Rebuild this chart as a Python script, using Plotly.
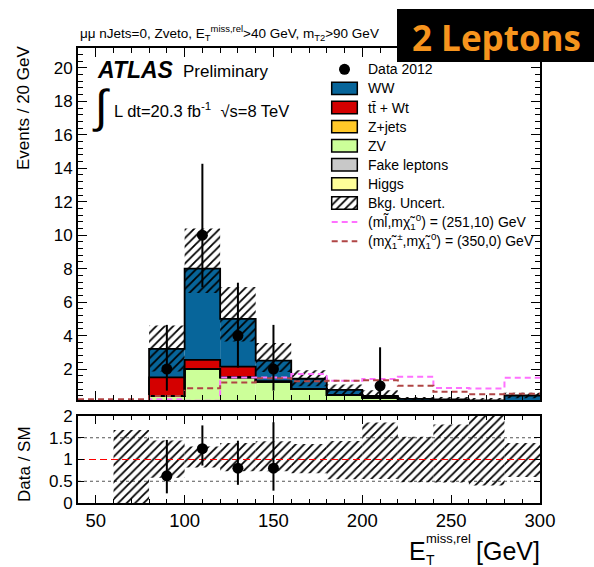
import plotly.graph_objects as go

# ---------------- data: E_T^{miss,rel} in 20 GeV bins ----------------
bin_edges = [40, 60, 80, 100, 120, 140, 160, 180, 200, 220, 240, 260, 280, 300]
bin_centers = [50, 70, 90, 110, 130, 150, 170, 190, 210, 230, 250, 270, 290]

# SM backgrounds (events / 20 GeV), listed bottom-up in the stack
zv    = [0.0, 0.0, 0.40, 2.00, 1.50, 1.25, 0.80, 0.45, 0.30, 0.10, 0.08, 0.05, 0.10]
zjets = [0.0, 0.0, 0.00, 0.00, 0.00, 0.00, 0.00, 0.00, 0.00, 0.00, 0.00, 0.00, 0.00]
fakes = [0.0, 0.0, 0.00, 0.00, 0.00, 0.00, 0.00, 0.00, 0.00, 0.00, 0.00, 0.00, 0.00]
higgs = [0.0, 0.0, 0.00, 0.00, 0.00, 0.00, 0.00, 0.00, 0.00, 0.00, 0.00, 0.00, 0.00]
ttbar = [0.0, 0.0, 1.10, 0.55, 0.65, 0.00, 0.00, 0.00, 0.00, 0.00, 0.00, 0.00, 0.00]
ww    = [0.0, 0.05, 1.70, 5.45, 2.85, 1.25, 0.62, 0.30, 0.10, 0.12, 0.10, 0.08, 0.32]

# total background uncertainty (absolute, up / down)
bkg_err_up   = [0.0, 0.034, 1.40, 2.40, 1.90, 1.05, 0.51, 0.32, 0.34, 0.115, 0.145, 0.135, 0.16]
bkg_err_down = [0.0, 0.060, 1.35, 1.45, 1.35, 0.67, 0.45, 0.34, 0.18, 0.115, 0.095, 0.078, 0.17]

# observed data 2012 with Poisson errors
data          = [0, 0, 2, 10, 4, 2, 0, 0, 1, 0, 0, 0, 0]
data_err_up   = [0, 0, 2.64, 4.27, 3.16, 2.64, 0, 0, 2.30, 0, 0, 0, 0]
data_err_down = [0, 0, 1.29, 3.11, 1.91, 1.29, 0, 0, 0.83, 0, 0, 0, 0]

# signal benchmark points
sig_slepton  = [0.10, 0.10, 0.20, 0.10, 1.50, 1.50, 1.70, 1.30, 1.40, 1.54, 0.87, 0.84, 1.48]
sig_chargino = [0.20, 0.20, 0.39, 0.85, 1.20, 1.45, 1.27, 1.30, 1.33, 1.00, 0.64, 0.50, 0.52]

main_yticks = [2, 4, 6, 8, 10, 12, 14, 16, 18, 20]
ratio_yticks = [0, 0.5, 1, 1.5, 2]
ratio_yticktext = ["0", "0.5", "1", "1.5", "2"]

# ---------------- styling ----------------
C_WW = "#07659a"
C_TT = "#d40000"
C_ZJ = "#ffc828"
C_ZV = "#ccff99"
C_FK = "#c8c8c8"
C_HG = "#ffff99"
C_SLEP = "#ff70ff"
C_CHAR = "#b04545"
FONT = "Liberation Sans, Arial, Helvetica, sans-serif"

W, H = 594, 567
ML, MR, MT, MB = 78, 54, 48, 64
PW, PH = W - ML - MR, H - MT - MB


def px_x(px):
    return (px - ML) / PW


def px_y(py):
    return (H - MB - py) / PH


fig = go.Figure()

# ---------------- main panel: stacked backgrounds ----------------
stack = [zv, zjets, fakes, higgs, ttbar, ww]
stack_colors = [C_ZV, C_ZJ, C_FK, C_HG, C_TT, C_WW]
base = [0.0] * len(bin_centers)
levels = []
for vals, col in zip(stack, stack_colors):
    fig.add_bar(x=bin_centers, y=vals, base=base, width=20,
                marker=dict(color=col, line=dict(width=0)),
                xaxis="x", yaxis="y", hoverinfo="skip")
    base = [b + v for b, v in zip(base, vals)]
    levels.append(base)
total = levels[-1]

# hatched background uncertainty band
hatch = dict(shape="/", fgcolor="black", fgopacity=1, bgcolor="rgba(0,0,0,0)",
             size=6, solidity=0.3, fillmode="overlay")
fig.add_bar(x=bin_centers,
            y=[u + d for u, d in zip(bkg_err_up, bkg_err_down)],
            base=[t - d for t, d in zip(total, bkg_err_down)],
            width=20,
            marker=dict(color="rgba(0,0,0,0)", line=dict(width=0), pattern=hatch),
            xaxis="x", yaxis="y", hoverinfo="skip")

# histogram outlines of the stacked components
for lvl in levels:
    fig.add_scatter(x=bin_edges, y=lvl + [lvl[-1]], mode="lines",
                    line=dict(shape="hv", color="black", width=1.8),
                    xaxis="x", yaxis="y", hoverinfo="skip")

# signal overlays
for sig, col in [(sig_slepton, C_SLEP), (sig_chargino, C_CHAR)]:
    fig.add_scatter(x=bin_edges, y=sig + [sig[-1]], mode="lines",
                    line=dict(shape="hv", color=col, width=2, dash="6px,4px"),
                    xaxis="x", yaxis="y", hoverinfo="skip")

# data points
sel = [i for i, d in enumerate(data) if d > 0]
fig.add_scatter(x=[bin_centers[i] for i in sel], y=[data[i] for i in sel],
                mode="markers",
                marker=dict(color="black", size=11),
                error_y=dict(type="data", symmetric=False,
                             array=[data_err_up[i] for i in sel],
                             arrayminus=[data_err_down[i] for i in sel],
                             color="black", thickness=2, width=0),
                xaxis="x", yaxis="y", hoverinfo="skip")

# ---------------- ratio panel ----------------
rsel = [i for i, t in enumerate(total) if t > 0]
fig.add_bar(x=[bin_centers[i] for i in rsel],
            y=[(bkg_err_up[i] + bkg_err_down[i]) / total[i] for i in rsel],
            base=[1 - bkg_err_down[i] / total[i] for i in rsel],
            width=20,
            marker=dict(color="rgba(0,0,0,0)", line=dict(width=0), pattern=hatch),
            xaxis="x2", yaxis="y2", hoverinfo="skip")

fig.add_scatter(x=[40, 300], y=[1, 1], mode="lines",
                line=dict(color="red", width=1, dash="7px,4px"),
                xaxis="x2", yaxis="y2", hoverinfo="skip")

psel = [i for i in sel if total[i] > 0 and data[i] / total[i] <= 2]
fig.add_scatter(x=[bin_centers[i] for i in psel],
                y=[data[i] / total[i] for i in psel],
                mode="markers",
                marker=dict(color="black", size=11),
                error_y=dict(type="data", symmetric=False,
                             array=[data_err_up[i] / total[i] for i in psel],
                             arrayminus=[data_err_down[i] / total[i] for i in psel],
                             color="black", thickness=2, width=0),
                xaxis="x2", yaxis="y2", hoverinfo="skip")

# ---------------- legend (hand-placed, ROOT style) ----------------
leg_box_x0, leg_box_x1 = 331.7, 357.3
leg_text_x = 365.7
row_y = [69.3 + 19.1 * k for k in range(10)]
shapes = []
annotations = []

leg_labels = [
    "Data 2012", "WW", "tt\u0304 + Wt", "Z+jets", "ZV", "Fake leptons", "Higgs",
    "Bkg. Uncert.",
    "(ml\u0303,m\u03c7\u0303<sub>1</sub><sup>0</sup>) = (251,10) GeV",
    "(m\u03c7\u0303<sub>1</sub><sup>\u00b1</sup>,m\u03c7\u0303<sub>1</sub><sup>0</sup>) = (350,0) GeV",
]
for k, lab in enumerate(leg_labels):
    annotations.append(dict(x=px_x(leg_text_x), y=px_y(row_y[k]), xref="paper", yref="paper",
                            text=lab, showarrow=False, xanchor="left", yanchor="middle",
                            font=dict(family=FONT, size=14, color="black")))

# data marker
shapes.append(dict(type="circle", xref="paper", yref="paper",
                   x0=px_x(344.5 - 5.5), x1=px_x(344.5 + 5.5),
                   y0=px_y(row_y[0] + 5.5), y1=px_y(row_y[0] - 5.5),
                   fillcolor="black", line=dict(color="black", width=0)))
# solid swatches
for k, col in zip(range(1, 7), [C_WW, C_TT, C_ZJ, C_ZV, C_FK, C_HG]):
    shapes.append(dict(type="rect", xref="paper", yref="paper",
                       x0=px_x(leg_box_x0), x1=px_x(leg_box_x1),
                       y0=px_y(row_y[k] + 6.2), y1=px_y(row_y[k] - 6.2),
                       fillcolor=col, line=dict(color="black", width=1.5)))
# hatched swatch (pattern fill through a tiny auxiliary axis)
hy0, hy1 = px_y(row_y[7] + 6.2), px_y(row_y[7] - 6.2)
fig.add_bar(x=[0.5], y=[1], base=[0], width=1,
            marker=dict(color="rgba(0,0,0,0)", line=dict(width=0), pattern=hatch),
            xaxis="x3", yaxis="y3", hoverinfo="skip")
shapes.append(dict(type="rect", xref="paper", yref="paper",
                   x0=px_x(leg_box_x0), x1=px_x(leg_box_x1), y0=hy0, y1=hy1,
                   line=dict(color="black", width=1.5)))
# signal line swatches
for k, col in [(8, C_SLEP), (9, C_CHAR)]:
    shapes.append(dict(type="line", xref="paper", yref="paper",
                       x0=px_x(leg_box_x0), x1=px_x(leg_box_x1),
                       y0=px_y(row_y[k]), y1=px_y(row_y[k]),
                       line=dict(color=col, width=2, dash="6px,4px")))

# ratio panel dotted reference lines
for v in [0.5, 1.5]:
    shapes.append(dict(type="line", xref="x2", yref="y2", x0=40, x1=300, y0=v, y1=v,
                       layer="below", line=dict(color="#555555", width=1, dash="dot")))

# "2 Leptons" badge
shapes.append(dict(type="rect", xref="paper", yref="paper",
                   x0=px_x(397), x1=px_x(600), y0=px_y(62), y1=px_y(9),
                   fillcolor="black", line=dict(width=0), layer="above"))
annotations.append(dict(x=px_x(496), y=px_y(37), xref="paper", yref="paper",
                        text="<b>2 Leptons</b>", showarrow=False,
                        xanchor="center", yanchor="middle",
                        font=dict(family="Open Sans, sans-serif", size=35, color="#f7941d")))

# header / labels
annotations += [
    dict(x=px_x(78), y=px_y(33), xref="paper", yref="paper", showarrow=False,
         xanchor="left", yanchor="middle",
         text="\u03bc\u03bc nJets=0, Zveto, E<sub>T</sub><sup>miss,rel</sup>>40 GeV, m<sub>T2</sub>>90 GeV",
         font=dict(family=FONT, size=13.5, color="black")),
    dict(x=px_x(95), y=px_y(70), xref="paper", yref="paper", showarrow=False,
         xanchor="left", yanchor="middle", text="<b><i>ATLAS</i></b>",
         font=dict(family=FONT, size=23, color="black")),
    dict(x=px_x(181), y=px_y(71), xref="paper", yref="paper", showarrow=False,
         xanchor="left", yanchor="middle", text="Preliminary",
         font=dict(family=FONT, size=17, color="black")),
    dict(x=px_x(101), y=px_y(106), xref="paper", yref="paper", showarrow=False,
         xanchor="center", yanchor="middle", text="\u222b",
         font=dict(family=FONT, size=46, color="black")),
    dict(x=px_x(112), y=px_y(110), xref="paper", yref="paper", showarrow=False,
         xanchor="left", yanchor="middle",
         text="L dt=20.3 fb<sup>-1</sup>  \u221as=8 TeV",
         font=dict(family=FONT, size=16.5, color="black")),
    dict(x=px_x(24), y=px_y(108), xref="paper", yref="paper", showarrow=False,
         xanchor="center", yanchor="middle", textangle=-90, text="Events / 20 GeV",
         font=dict(family=FONT, size=17, color="black")),
    dict(x=px_x(24), y=px_y(464), xref="paper", yref="paper", showarrow=False,
         xanchor="center", yanchor="middle", textangle=-90, text="Data / SM",
         font=dict(family=FONT, size=17, color="black")),
    # x-axis title with stacked sub/superscript
    dict(x=px_x(407), y=px_y(551), xref="paper", yref="paper", showarrow=False,
         xanchor="left", yanchor="middle", text="E",
         font=dict(family=FONT, size=25, color="black")),
    dict(x=px_x(424), y=px_y(538), xref="paper", yref="paper", showarrow=False,
         xanchor="left", yanchor="middle", text="miss,rel",
         font=dict(family=FONT, size=13, color="black")),
    dict(x=px_x(424), y=px_y(560), xref="paper", yref="paper", showarrow=False,
         xanchor="left", yanchor="middle", text="T",
         font=dict(family=FONT, size=14, color="black")),
    dict(x=px_x(542), y=px_y(551), xref="paper", yref="paper", showarrow=False,
         xanchor="right", yanchor="middle", text="[GeV]",
         font=dict(family=FONT, size=25, color="black")),
]

axis_common = dict(showline=True, linecolor="black", linewidth=2, mirror="ticks",
                   showgrid=False, zeroline=False, ticks="inside", tickcolor="black",
                   tickwidth=1)

fig.update_layout(
    width=W, height=H,
    margin=dict(l=ML, r=MR, t=MT, b=MB),
    paper_bgcolor="white", plot_bgcolor="white",
    showlegend=False, barmode="overlay",
    xaxis=dict(**axis_common, domain=[0, 1], anchor="y", range=[40, 300],
               tick0=0, dtick=50, ticklen=9, showticklabels=False,
               minor=dict(ticks="inside", dtick=10, tick0=0, ticklen=5,
                          tickcolor="black", tickwidth=1)),
    yaxis=dict(**axis_common, domain=[px_y(400), 1], anchor="x", range=[0.15, 21.19],
               tickmode="array", tickvals=main_yticks, ticklen=9,
               tickfont=dict(family=FONT, size=17, color="black"),
               minor=dict(ticks="inside", tickmode="linear", dtick=0.4, tick0=0, ticklen=5,
                          tickcolor="black", tickwidth=1)),
    xaxis2=dict(**axis_common, domain=[0, 1], anchor="y2", range=[40, 300],
                tick0=0, dtick=50, ticklen=8,
                tickfont=dict(family=FONT, size=18.5, color="black"),
                minor=dict(ticks="inside", dtick=10, tick0=0, ticklen=4,
                           tickcolor="black", tickwidth=1)),
    yaxis2=dict(**axis_common, domain=[0, px_y(416)], anchor="x2", range=[0, 2],
                tickmode="array", tickvals=ratio_yticks, ticktext=ratio_yticktext,
                ticklen=6, tickfont=dict(family=FONT, size=17, color="black")),
    xaxis3=dict(visible=False, domain=[px_x(leg_box_x0), px_x(leg_box_x1)],
                anchor="y3", range=[0, 1], fixedrange=True),
    yaxis3=dict(visible=False, domain=[hy0, hy1], anchor="x3", range=[0, 1],
                fixedrange=True),
    shapes=shapes,
    annotations=annotations,
)

fig.write_html("out.html")
